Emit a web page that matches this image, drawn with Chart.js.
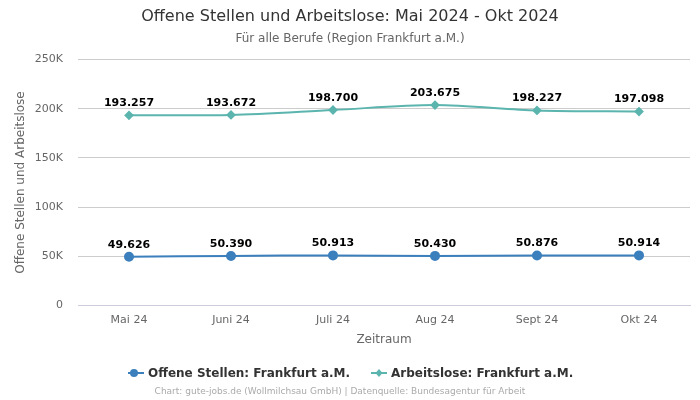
<!DOCTYPE html>
<html>
<head>
<meta charset="utf-8">
<script src="https://cdn.jsdelivr.net/npm/chart.js@4/dist/chart.umd.min.js"></script>
<style>
  html, body { margin: 0; padding: 0; background: #fff; }
  #wrap { width: 700px; height: 400px; }
</style>
</head>
<body>
<div id="wrap"><canvas id="myChart" width="700" height="400"></canvas></div>
<script>
const months = ["Mai 24", "Juni 24", "Juli 24", "Aug 24", "Sept 24", "Okt 24"];
const offeneStellen = [49626, 50390, 50913, 50430, 50876, 50914];
const arbeitslose = [193257, 193672, 198700, 203675, 198227, 197098];
const yTicks = [0, 50000, 100000, 150000, 200000, 250000];
const seriesNames = ["Offene Stellen: Frankfurt a.M.", "Arbeitslose: Frankfurt a.M."];

const blue = "#3b7fbd";
const teal = "#5bb5ae";
const font = "DejaVu Sans";

function fmtNum(v) {
  return v.toLocaleString("de-DE");
}

// titel, werte über den punkten, legende, fußzeile
const extras = {
  id: "extras",
  afterDraw(chart) {
    const ctx = chart.ctx;
    ctx.save();
    ctx.textAlign = "center";
    ctx.textBaseline = "middle";
    ctx.fillStyle = "#333";
    ctx.font = `16px "${font}"`;
    ctx.fillText("Offene Stellen und Arbeitslose: Mai 2024 - Okt 2024", 350, 17);
    ctx.fillStyle = "#666";
    ctx.font = `12px "${font}"`;
    ctx.fillText("Für alle Berufe (Region Frankfurt a.M.)", 350, 39);

    // werte
    ctx.fillStyle = "#000";
    ctx.font = `bold 11px "${font}"`;
    chart.data.datasets.forEach((ds, i) => {
      chart.getDatasetMeta(i).data.forEach((pt, j) => {
        ctx.fillText(fmtNum(ds.data[j]), pt.x, pt.y - 12);
      });
    });

    // legende
    ctx.font = `bold 12px "${font}"`;
    ctx.textAlign = "left";
    const items = [
      { x: 128, color: blue, style: "circle", r: 4 },
      { x: 371, color: teal, style: "diamond", r: 3.5 },
    ];
    items.forEach((it, i) => {
      const y = 373;
      ctx.strokeStyle = it.color;
      ctx.lineWidth = 2;
      ctx.beginPath();
      ctx.moveTo(it.x, y);
      ctx.lineTo(it.x + 16, y);
      ctx.stroke();
      ctx.fillStyle = it.color;
      ctx.beginPath();
      if (it.style === "circle") {
        ctx.arc(it.x + 6, y, it.r, 0, Math.PI * 2);
      } else {
        const cx = it.x + 8;
        ctx.moveTo(cx, y - it.r - 0.5);
        ctx.lineTo(cx + it.r, y);
        ctx.lineTo(cx, y + it.r + 0.5);
        ctx.lineTo(cx - it.r, y);
        ctx.closePath();
      }
      ctx.fill();
      ctx.fillStyle = "#333";
      ctx.fillText(seriesNames[i], it.x + 20, y + 1);
    });

    ctx.textAlign = "center";
    ctx.fillStyle = "#aaa";
    ctx.font = `9px "${font}"`;
    ctx.fillText("Chart: gute-jobs.de (Wollmilchsau GmbH) | Datenquelle: Bundesagentur für Arbeit", 340, 392);
    ctx.restore();
  },
};

new Chart(document.getElementById("myChart"), {
  type: "line",
  data: {
    labels: months,
    datasets: [
      {
        label: seriesNames[0],
        data: offeneStellen,
        borderColor: blue,
        backgroundColor: blue,
        borderWidth: 2,
        pointStyle: "circle",
        pointRadius: 4,
        pointHoverRadius: 4,
        tension: 0.3,
      },
      {
        label: seriesNames[1],
        data: arbeitslose,
        borderColor: teal,
        backgroundColor: teal,
        borderWidth: 2,
        pointStyle: "rectRot",
        pointRadius: 3.5,
        pointHoverRadius: 3.5,
        tension: 0.3,
      },
    ],
  },
  options: {
    responsive: false,
    animation: false,
    layout: { padding: { top: 59.5, right: 10, bottom: 48.5, left: 0 } },
    plugins: {
      legend: { display: false },
      tooltip: { enabled: false },
    },
    scales: {
      x: {
        offset: true,
        grid: { display: false, drawTicks: false },
        border: { color: "#ccd" },
        ticks: { color: "#666", font: { family: font, size: 11 }, padding: 8 },
        title: { display: true, text: "Zeitraum", color: "#666", font: { family: font, size: 12 }, padding: { top: 4 } },
        afterFit(scale) { scale.height = 46; },
      },
      y: {
        min: 0,
        max: 250000,
        afterBuildTicks(scale) { scale.ticks = yTicks.map((v) => ({ value: v })); },
        grid: { color: "#ccc", drawTicks: false },
        border: { display: false },
        ticks: {
          color: "#666",
          font: { family: font, size: 11 },
          padding: 15,
          callback: (v) => (v === 0 ? "0" : v / 1000 + "K"),
        },
        title: { display: true, text: "Offene Stellen und Arbeitslose", color: "#666", font: { family: font, size: 12 }, padding: { top: 14, bottom: 0 } },
        afterFit(scale) { scale.width = 78; },
      },
    },
  },
  plugins: [extras],
});
</script>
</body>
</html>
